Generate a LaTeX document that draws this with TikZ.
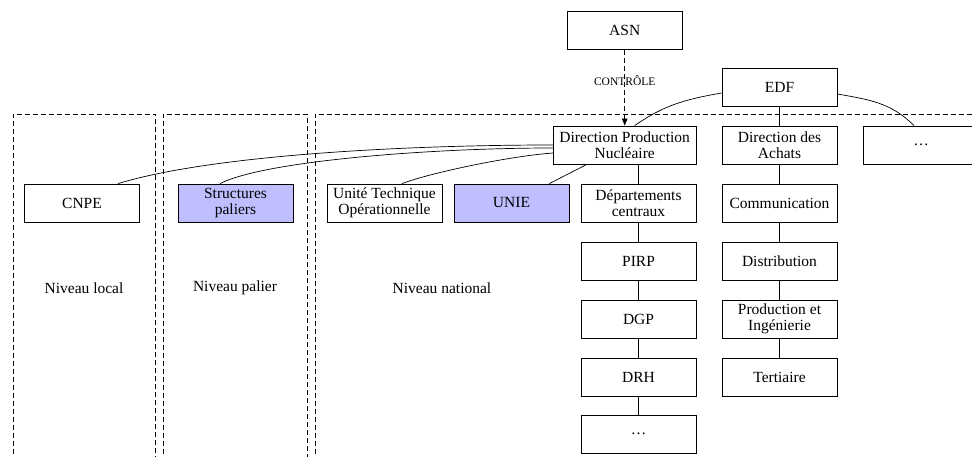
\documentclass[tikz,border=0pt]{standalone}
\usepackage{fontspec}
\setmainfont{Liberation Serif}
\usetikzlibrary{arrows.meta}
\begin{document}
\begin{tikzpicture}[x=1pt,y=-1pt,
  box/.style={draw,line width=0.8pt,minimum width=115pt,minimum height=38pt,inner sep=1pt,align=center,font=\fontsize{15.5}{16}\selectfont},
  wbox/.style={box,minimum width=142.5pt},
  hl/.style={box,fill=blue!25},
  con/.style={line width=0.7pt},
  zone/.style={line width=0.7pt,dash pattern=on 5pt off 3pt},
  lvl/.style={font=\fontsize{15.5}{16}\selectfont,inner sep=0pt},
  ctrlstyle/.style={font=\fontsize{11.5}{12}\selectfont,inner sep=0pt}
]
\clip (0,0) rectangle (972,457);
% zones
\draw[zone] (13,470) -- (13,114) -- (155.5,114) -- (155.5,470);
\draw[zone] (163,470) -- (163,114) -- (307,114) -- (307,470);
\draw[zone] (315,470) -- (315,114) -- (990,114);
% nodes
\node[box] (ASN) at (624.7,30.5) {ASN};
\node[box] (EDF) at (779.5,87) {EDF};
\node[wbox] (DPN) at (624.7,145) {Direction Production\\Nucléaire};
\node[box] (DA) at (779.5,145) {Direction des\\Achats};
\node[box] (autres) at (921,145) {\dots};
\node[box] (CNPE) at (82,203) {CNPE};
\node[hl] (SP) at (235.5,203) {Structures\\paliers};
\node[box] (UTO) at (384.5,203) {Unité Technique\\Opérationnelle};
\node[hl] (UNIE) at (511.5,203) {UNIE};
\node[box] (DC) at (638.5,203.5) {Départements\\centraux};
\node[box] (PIRP) at (638.5,261) {PIRP};
\node[box] (DGP) at (638.5,319) {DGP};
\node[box] (DRH) at (638.5,377) {DRH};
\node[box] (dots2) at (638.5,434) {\dots};
\node[box] (COM) at (779.5,203.5) {Communication};
\node[box] (DIST) at (779.5,261) {Distribution};
\node[box] (PI) at (779.5,319) {Production et\\Ingénierie};
\node[box] (TERT) at (779.5,377) {Tertiaire};
% level labels
\node[lvl] (nl) at (84,288) {Niveau local};
\node[lvl] (np) at (235,288) {Niveau palier};
\node[lvl] (nn) at (442,288) {Niveau national};
% connectors
\draw[con,dash pattern=on 5pt off 3pt,-{Triangle[length=7pt,width=5.5pt]}] (ASN) -- node[ctrlstyle,pos=0.4] (ctrl) {CONTRÔLE} (DPN);
\draw[con] (EDF) -- (DA);
\draw[con] (DA) -- (COM);
\draw[con] (COM) -- (DIST);
\draw[con] (DIST) -- (PI);
\draw[con] (PI) -- (TERT);
\draw[con] (DC.north) -- (DC.north |- DPN.south);
\draw[con] (DC) -- (PIRP);
\draw[con] (PIRP) -- (DGP);
\draw[con] (DGP) -- (DRH);
\draw[con] (DRH) -- (dots2);
\draw[con] (DPN) -- (UNIE);
\draw[con] ([yshift=-6pt]EDF.west) to[out=190,in=35] ([xshift=10pt]DPN.north);
\draw[con] ([yshift=-7pt]EDF.east) to[out=-10,in=135] ([xshift=-7pt]autres.north);
\draw[con] (DPN.west) to[out=180,in=17,out distance=153pt,in distance=96pt] ([xshift=36pt]CNPE.north);
\draw[con] ([yshift=-3pt]DPN.west) to[out=180,in=27,out distance=123pt,in distance=50pt] ([xshift=-15.5pt]SP.north);
\draw[con] ([yshift=-8pt]DPN.west) to[out=184,in=21,out distance=43pt,in distance=30pt] ([xshift=17.5pt]UTO.north);
\end{tikzpicture}
\end{document}
